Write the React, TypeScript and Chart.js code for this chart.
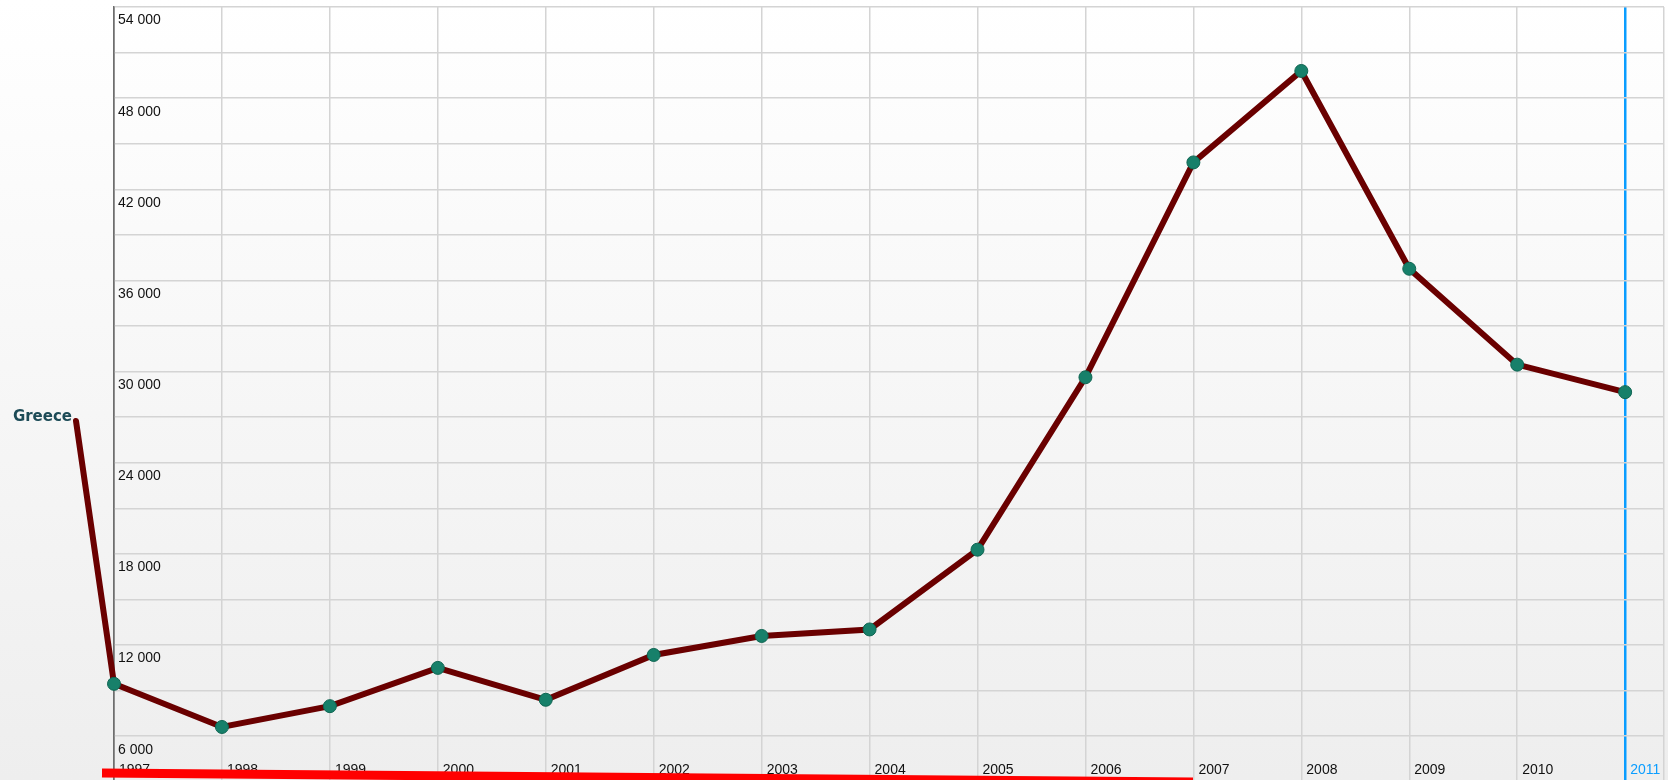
import React, { useEffect, useRef } from "react";
import { Chart, registerables } from "chart.js";

Chart.register(...registerables);

// ---- data ----
const seriesName = "Greece";
const years = [1997, 1998, 1999, 2000, 2001, 2002, 2003, 2004, 2005, 2006, 2007, 2008, 2009, 2010, 2011];
const values = [9450, 6610, 7980, 10500, 8400, 11350, 12600, 13030, 18280, 29630, 43770, 49790, 36770, 30460, 28650];
const yGridValues = [6000, 9000, 12000, 15000, 18000, 21000, 24000, 27000, 30000, 33000, 36000, 39000, 42000, 45000, 48000, 51000, 54000];
const yLabelStep = 6000;
const highlightYear = 2011;
const yMin = 3120;
const yMax = 54000;
const xMin = 1997;
const xMax = 2011.36;

// ---- styles ----
const W = 1668;
const H = 780;
const LINE_COLOR = "#6a0000";
const POINT_COLOR = "#17806a";
const POINT_BORDER = "#0f6552";
const GRID_COLOR = "#d4d4d4";
const AXIS_COLOR = "#6e6e6e";
const HIGHLIGHT = "#0a9dff";
const LABEL_COLOR = "#1d4b57";
const TICK_FONT = "'Liberation Sans', Arial, sans-serif";
const LABEL_ANCHOR = { x: 76, y: 421 };

const fmt = (v: number) => String(v).replace(/\B(?=(\d{3})+(?!\d))/g, " ");

const decorPlugin = {
  id: "decor",
  beforeDatasetsDraw(chart: any) {
    const meta = chart.getDatasetMeta(0);
    const p = meta.data[0];
    if (!p) return;
    const ctx = chart.ctx;
    ctx.save();
    ctx.strokeStyle = LINE_COLOR;
    ctx.lineWidth = 6;
    ctx.lineCap = "round";
    ctx.beginPath();
    ctx.moveTo(LABEL_ANCHOR.x, LABEL_ANCHOR.y);
    ctx.lineTo(p.x, p.y);
    ctx.stroke();
    ctx.restore();
  },
  afterDatasetsDraw(chart: any) {
    const ctx = chart.ctx;
    ctx.save();
    ctx.fillStyle = LABEL_COLOR;
    ctx.font = "bold 15px 'DejaVu Sans', Verdana, sans-serif";
    ctx.textAlign = "right";
    ctx.textBaseline = "middle";
    ctx.fillText(seriesName, LABEL_ANCHOR.x - 4, LABEL_ANCHOR.y - 4);
    ctx.restore();
  },
  afterDraw(chart: any) {
    const ctx = chart.ctx;
    ctx.save();
    ctx.strokeStyle = "#ff0000";
    ctx.lineWidth = 9;
    ctx.lineCap = "butt";
    ctx.beginPath();
    ctx.moveTo(102, 773);
    ctx.lineTo(1193, 782);
    ctx.stroke();
    ctx.restore();
  },
};

export default function App() {
  const canvasRef = useRef<HTMLCanvasElement | null>(null);

  useEffect(() => {
    const canvas = canvasRef.current;
    if (!canvas) return;
    const chart = new Chart(canvas, {
      type: "line",
      data: {
        datasets: [
          {
            label: seriesName,
            data: years.map((y, i) => ({ x: y, y: values[i] })),
            borderColor: LINE_COLOR,
            borderWidth: 6,
            tension: 0,
            pointRadius: 6.5,
            pointBackgroundColor: POINT_COLOR,
            pointBorderColor: POINT_BORDER,
            pointBorderWidth: 1,
            clip: false as any,
          },
        ],
      },
      options: {
        animation: false,
        responsive: false,
        devicePixelRatio: 1,
        layout: { autoPadding: false, padding: { left: 114, top: 7, right: 4, bottom: 0 } },
        plugins: { legend: { display: false }, tooltip: { enabled: false } },
        events: [],
        scales: {
          x: {
            type: "linear",
            position: "bottom",
            min: xMin,
            max: xMax,
            bounds: "data",
            afterBuildTicks: (scale: any) => {
              scale.ticks = years.concat([xMax]).map((v) => ({ value: v }));
            },
            afterFit: (scale: any) => {
              scale.height = 0;
              scale.paddingLeft = 0;
              scale.paddingRight = 0;
            },
            grid: {
              drawTicks: false,
              color: (c: any) =>
                c.tick && c.tick.value === highlightYear
                  ? HIGHLIGHT
                  : c.tick && c.tick.value === xMin
                  ? AXIS_COLOR
                  : GRID_COLOR,
              lineWidth: (c: any) => (c.tick && c.tick.value === highlightYear ? 2.5 : 1.5),
            },
            border: { display: false },
            ticks: {
              mirror: true,
              align: "start",
              labelOffset: 5,
              padding: 1,
              autoSkip: false,
              maxRotation: 0,
              font: { family: TICK_FONT, size: 14 },
              color: (c: any) => (c.tick && c.tick.value === highlightYear ? HIGHLIGHT : "#111111"),
              callback: (v: any) => (Number.isInteger(v) ? String(v) : ""),
            },
          },
          y: {
            type: "linear",
            position: "left",
            min: yMin,
            max: yMax,
            bounds: "data",
            afterBuildTicks: (scale: any) => {
              scale.ticks = yGridValues.map((v) => ({ value: v }));
            },
            afterFit: (scale: any) => {
              scale.width = 0;
              scale.paddingTop = 0;
              scale.paddingBottom = 0;
            },
            grid: { drawTicks: false, color: GRID_COLOR, lineWidth: 1.5 },
            border: { display: true, color: AXIS_COLOR, width: 1.5 },
            ticks: {
              mirror: true,
              padding: 4,
              labelOffset: 13.5,
              font: { family: TICK_FONT, size: 14 },
              color: "#111111",
              callback: (v: any) => (v % yLabelStep === 0 ? fmt(v) : ""),
            },
          },
        },
      } as any,
      plugins: [decorPlugin],
    });
    return () => chart.destroy();
  }, []);

  return (
    <div
      style={{
        position: "fixed",
        left: 0,
        top: 0,
        width: W,
        height: H,
        background: "linear-gradient(to bottom, #ffffff 0%, #eeeeee 100%)",
      }}
    >
      <canvas ref={canvasRef} width={W} height={H} style={{ display: "block", width: W, height: H }} />
    </div>
  );
}
